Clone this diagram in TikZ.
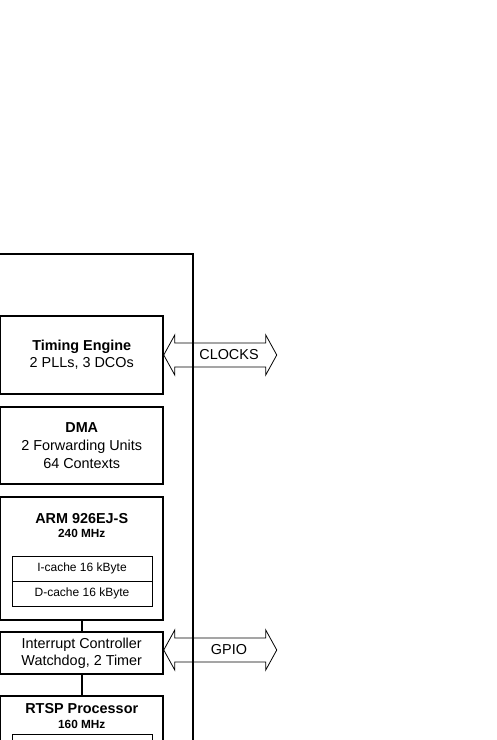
\documentclass[tikz,border=0pt]{standalone}
\usepackage{fontspec}
\setmainfont{Liberation Sans}
\begin{document}
\begin{tikzpicture}[x=1pt,y=-1pt,
  blk/.style={draw, line width=1.5pt, minimum width=162.5pt, inner sep=0pt, align=center, font=\fontsize{14.4}{17}\selectfont},
  cache/.style={draw, line width=0.8pt, minimum width=140pt, minimum height=25pt, inner sep=0pt, font=\fontsize{12}{14}\selectfont},
  ttl/.style={anchor=base, inner sep=0pt, font=\fontsize{14.4}{17}\selectfont\bfseries},
  freq/.style={anchor=base, inner sep=0pt, font=\fontsize{11.8}{14}\selectfont\bfseries},
  lbl/.style={inner sep=0pt, font=\fontsize{14.4}{17}\selectfont},
  bus/.style={draw, line width=0.8pt},
  link/.style={line width=1.5pt}]
\useasboundingbox (0,0) rectangle (497,740);
% outer frame
\draw[line width=2pt] (-5,254) -- (193,254) -- (193,760);
% blocks
\node[blk, minimum height=78pt] (te) at (81.75,355) {\textbf{Timing Engine}\\2 PLLs, 3 DCOs};
\node[blk, minimum height=77pt, font=\fontsize{14.4}{18}\selectfont] (dma) at (81.75,445.5) {\textbf{DMA}\\2 Forwarding Units\\64 Contexts};
\node[blk, minimum height=123pt] (arm) at (81.75,558.5) {};
\node[ttl] (armt) at (81.75,523) {ARM 926EJ-S};
\node[freq] (armf) at (81.75,537) {240 MHz};
\node[cache] (ic1) at (82,568.5) {I-cache 16 kByte};
\node[cache] (dc1) at (82,593.5) {D-cache 16 kByte};
\node[blk, minimum height=42pt] (ic) at (81.75,653) {Interrupt Controller\\Watchdog, 2 Timer};
\node[blk, minimum height=110pt] (rtsp) at (81.75,751) {};
\node[ttl] (rtspt) at (81.75,713) {RTSP Processor};
\node[freq] (rtspf) at (81.75,728) {160 MHz};
\node[cache, minimum height=60pt] (rc1) at (82,764) {};
% links
\draw[link] (arm.south) -- (ic.north);
\draw[link] (ic.south) -- (rtsp.north);
% buses
\draw[bus] (te.east) -- ++(11,-20) -- ++(0,8) -- ++(91,0) -- ++(0,-8) -- ++(11,20)
  -- ++(-11,20) -- ++(0,-8) -- ++(-91,0) -- ++(0,8) -- cycle;
\node[lbl] (clk) at (229,355) {CLOCKS};
\draw[bus] ([yshift=3pt]ic.east) -- ++(11,-20) -- ++(0,8) -- ++(91,0) -- ++(0,-8) -- ++(11,20)
  -- ++(-11,20) -- ++(0,-8) -- ++(-91,0) -- ++(0,8) -- cycle;
\node[lbl] (gpio) at (229,650) {GPIO};
\end{tikzpicture}
\end{document}
